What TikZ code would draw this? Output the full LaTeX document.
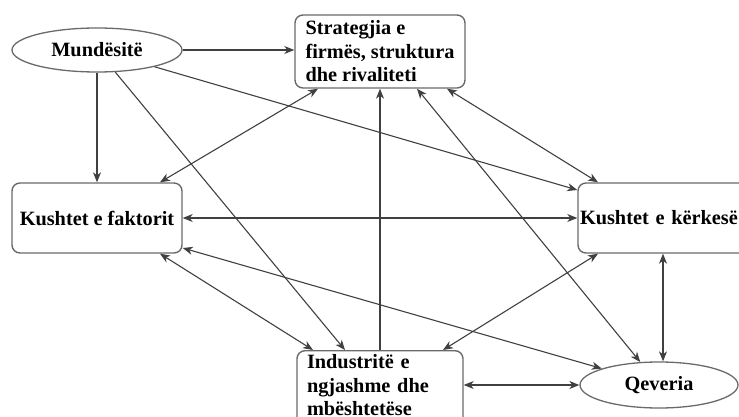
\documentclass[tikz,border=0pt]{standalone}
\usepackage{fontspec}
\setmainfont{Liberation Serif}
\usetikzlibrary{arrows.meta,shapes.geometric}
\definecolor{edgegray}{HTML}{404040}
\definecolor{boxgray}{HTML}{6A6A6A}
\begin{document}
\begin{tikzpicture}[x=1pt,y=-1pt,
  lbl/.style={font=\bfseries\fontsize{20.3}{23.5}\selectfont},
  box/.style={lbl, draw=boxgray, line width=1.4pt, rounded corners=8pt, fill=white},
  oval/.style={lbl, draw=boxgray, line width=1.3pt, ellipse, inner sep=0pt, fill=white},
  tip/.tip={Stealth[length=10pt,width=8pt,inset=3pt]},
  arr/.style={draw=edgegray, line width=1.1pt, -tip},
  darr/.style={draw=edgegray, line width=1.1pt, tip-tip}]
\useasboundingbox (0,0) rectangle (739,417);
\clip (0,0) rectangle (739,417);

\node[oval, minimum width=170pt, minimum height=44pt] (mund) at (97,50) {Mundësitë};
\node[box, minimum width=170pt, minimum height=73pt, inner xsep=0pt, inner ysep=0pt, align=left] (strat) at (380,51.5) {Strategjia e\\firmës, struktura\\dhe rivaliteti};
\node[box, minimum width=170pt, minimum height=70pt, inner sep=0pt] (fakt) at (97,218) {Kushtet e faktorit};
\node[box, minimum width=170pt, minimum height=70pt, text width=166pt, inner xsep=2pt, inner ysep=0pt, align=left] (kerk) at (663,218) {Kushtet e kërkesë};
\node[box, anchor=north, text width=146pt, inner xsep=10pt, inner ysep=4pt, align=left] (indu) at (380,350) {Industritë e\\ngjashme dhe\\mbështetëse\rule[-14pt]{0pt}{14pt}};
\node[oval, minimum width=158pt, minimum height=46pt] (qev) at (659,385) {Qeveria};

% Mundesite
\draw[arr] (mund.east) -- (mund.east -| strat.west);
\draw[arr] (mund) -- (fakt);
\coordinate (induA) at ([xshift=-35pt]indu.north);
\draw[arr] (mund) -- (induA);
\coordinate (kerkA) at ([yshift=28pt]kerk.west);
\draw[arr] (mund) -- (kerkA);

% Strategjia
\draw[darr] ([xshift=-62pt]strat.south) -- ([xshift=63pt]fakt.north);
\draw[arr] (indu.north) -- (strat.south);
\coordinate (stratB) at ([xshift=37pt]strat.south);
\draw[darr] (stratB) -- (qev);
\draw[darr] ([xshift=67pt]strat.south) -- ([xshift=-65pt]kerk.north);

% Kushtet e faktorit
\draw[darr] (fakt.east) -- (kerk.west);
\coordinate (faktC) at ([yshift=-30pt]fakt.east);
\draw[darr] (faktC) -- (qev);
\draw[darr] ([xshift=63pt]fakt.south) -- ([xshift=-67pt]indu.north);

% Kushtet e kerkese
\draw[darr] ([xshift=-65pt]kerk.south) -- ([xshift=63pt]indu.north);
\draw[darr] (kerk.south) -- (kerk.south |- qev.north);

% Industrite - Qeveria
\draw[darr] (qev.west -| indu.east) -- (qev.west);
\end{tikzpicture}
\end{document}
